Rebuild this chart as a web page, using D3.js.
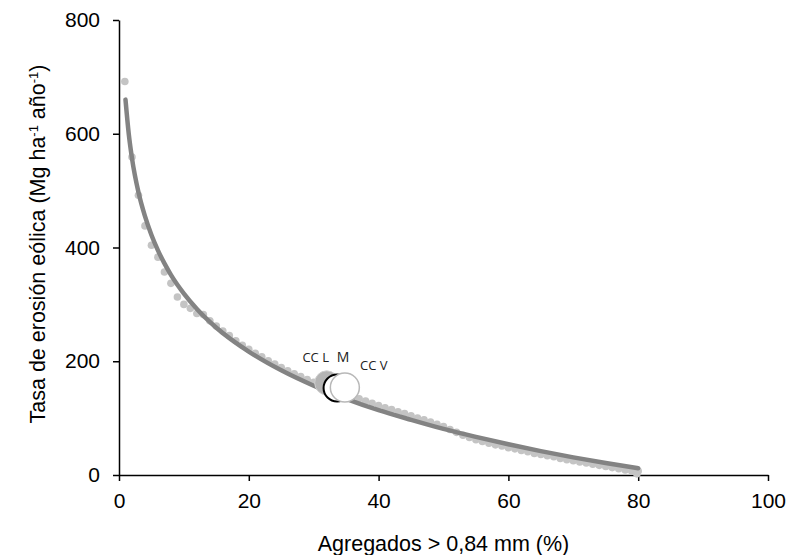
<!DOCTYPE html>
<html>
<head>
<meta charset="utf-8">
<script src="https://cdn.jsdelivr.net/npm/d3@7"></script>
<style>
    body { margin: 0; background: #fff; }
    .axis text { font-family: "Liberation Sans", Arial, sans-serif; font-size: 21px; fill: #000; }
    .axis path, .axis line { stroke: #000; stroke-width: 1.5px; }
    .titulo { font-family: "Liberation Sans", Arial, sans-serif; font-size: 21.5px; fill: #000; }
    .etiqueta { font-family: "Open Sans", sans-serif; font-size: 13px; fill: #222; }
</style>
</head>
<body>
<div id="chart"></div>
<script>
// Datos observados (puntos grises)
const xDatos = [0.9, 2, 3, 4, 5, 6, 7, 8, 9, 10, 11, 12,
    13, 14, 15, 16, 17, 18, 19, 20, 21, 22, 23, 24, 25, 26, 27, 28, 29, 30,
    31, 32, 33, 34, 35, 36, 37, 38, 39, 40, 41, 42, 43, 44, 45, 46, 47, 48, 49, 50,
    51, 52, 53, 54, 55, 56, 57, 58, 59, 60, 61, 62, 63, 64, 65, 66, 67, 68, 69, 70,
    71, 72, 73, 74, 75, 76, 77, 78, 79, 80, 79.8];
const yDatos = [692, 559, 492, 438, 404, 383, 357, 337, 313, 300, 293, 284,
    282, 271, 262, 253, 245, 236, 228, 221, 214, 208, 201, 195, 189, 183, 178, 173, 168, 163,
    158, 153, 149, 145, 141, 137, 134, 130, 126, 122, 118, 115, 111, 108, 104, 100, 97, 93, 89, 85,
    80, 75, 70, 66, 62, 59, 56, 53, 51, 48, 46, 43, 41, 38, 36, 34, 32, 29, 27, 25,
    23, 21, 19, 17, 15, 13, 11, 9, 7, 7, 2];

// Curva ajustada
const xCurva = [1, 1.5, 2, 3, 4, 5, 6, 7, 8, 10, 12, 15, 20, 25, 30, 35, 40, 45, 50, 55, 60, 65, 70, 75, 80];
const yCurva = [660, 600, 557, 497, 455, 422, 395, 372, 352, 319, 292, 259, 217, 184, 157, 134, 114, 97, 81, 67, 54, 42, 31, 21, 12];

// Tratamientos
const tratamientos = ["CC L", "M", "CC V"];
const xTrat = [32.0, 33.6, 34.8];
const yTrat = [162, 153, 154];

const xTicks = [0, 20, 40, 60, 80, 100];
const yTicks = [0, 200, 400, 600, 800];

const width = 789, height = 555;
const margin = { top: 20, right: 21, bottom: 80, left: 119 };
const innerW = width - margin.left - margin.right;
const innerH = height - margin.top - margin.bottom;

const svg = d3.select("#chart").append("svg")
    .attr("width", width)
    .attr("height", height);

const g = svg.append("g")
    .attr("transform", `translate(${margin.left},${margin.top})`);

const x = d3.scaleLinear().domain([0, 100]).range([0, innerW]);
const y = d3.scaleLinear().domain([0, 800]).range([innerH, 0]);

// Ejes
g.append("g")
    .attr("class", "axis")
    .attr("transform", `translate(0,${innerH})`)
    .call(d3.axisBottom(x).tickValues(xTicks).tickSize(6).tickSizeOuter(0).tickPadding(12));

g.append("g")
    .attr("class", "axis")
    .call(d3.axisLeft(y).tickValues(yTicks).tickSize(6).tickSizeOuter(0).tickPadding(13));

// Puntos
g.selectAll(".punto")
    .data(xDatos.map((d, i) => [d, yDatos[i]]))
    .enter()
    .append("circle")
    .attr("class", "punto")
    .attr("cx", d => x(d[0]))
    .attr("cy", d => y(d[1]))
    .attr("r", 3.8)
    .attr("fill", "#c4c4c4");

// Curva
const linea = d3.line()
    .x(d => x(d[0]))
    .y(d => y(d[1]))
    .curve(d3.curveMonotoneX);

g.append("path")
    .datum(xCurva.map((d, i) => [d, yCurva[i]]))
    .attr("d", linea)
    .attr("fill", "none")
    .attr("stroke", "#838383")
    .attr("stroke-width", 4.5)
    .attr("stroke-linecap", "round");

// Círculos de tratamientos
const estilos = [
    { fill: "#b4b4b4", stroke: "#cfcfcf", sw: 1, r: 12 },
    { fill: "#ffffff", stroke: "#000000", sw: 2, r: 13.5 },
    { fill: "#ffffff", stroke: "#b8b8b8", sw: 1.5, r: 14.5 }
];
const offsets = [[-11, -24], [6, -30], [29, -21]];

tratamientos.forEach((t, i) => {
    g.append("circle")
        .attr("cx", x(xTrat[i]))
        .attr("cy", y(yTrat[i]))
        .attr("r", estilos[i].r)
        .attr("fill", estilos[i].fill)
        .attr("stroke", estilos[i].stroke)
        .attr("stroke-width", estilos[i].sw);
});

tratamientos.forEach((t, i) => {
    g.append("text")
        .attr("class", "etiqueta")
        .attr("x", x(xTrat[i]) + offsets[i][0])
        .attr("y", y(yTrat[i]) + offsets[i][1])
        .attr("text-anchor", "middle")
        .attr("dominant-baseline", "middle")
        .style("font-size", t === "M" ? "14px" : "13px")
        .text(t);
});

// Títulos
svg.append("text")
    .attr("class", "titulo")
    .attr("x", margin.left + innerW / 2)
    .attr("y", 551)
    .attr("text-anchor", "middle")
    .text("Agregados > 0,84 mm (%)");

const yt = svg.append("text")
    .attr("class", "titulo")
    .attr("transform", `translate(45,${margin.top + 224}) rotate(-90)`)
    .attr("text-anchor", "middle");
yt.append("tspan").text("Tasa de erosión eólica (Mg ha");
yt.append("tspan").attr("baseline-shift", "super").style("font-size", "13px").text("-1");
yt.append("tspan").text(" año");
yt.append("tspan").attr("baseline-shift", "super").style("font-size", "13px").text("-1");
yt.append("tspan").text(")");
</script>
</body>
</html>
